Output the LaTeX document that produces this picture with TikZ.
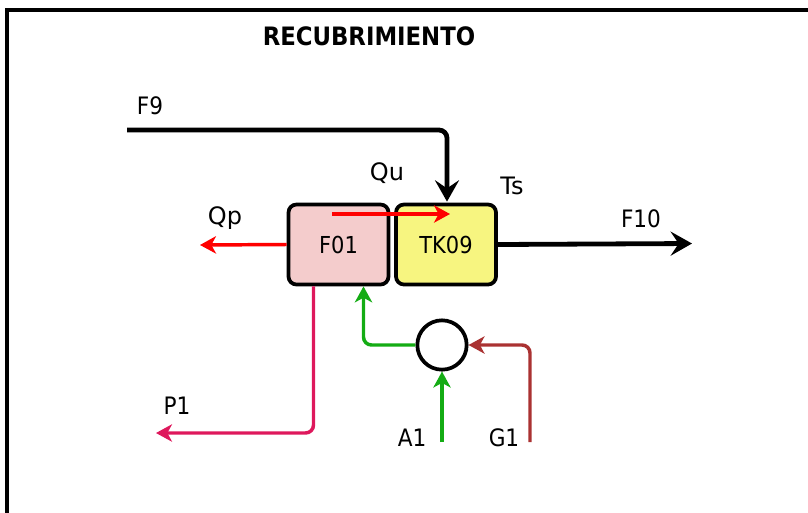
\documentclass[tikz,border=0pt]{standalone}
\usepackage{fontspec}
\setmainfont{DejaVu Sans}
\newfontfamily\condfont{DejaVu Sans Condensed}
\usetikzlibrary{arrows.meta, calc}
\definecolor{pinkfill}{RGB}{244,204,204}
\definecolor{yellowfill}{RGB}{247,245,128}
\definecolor{heatred}{RGB}{255,0,0}
\definecolor{airgreen}{RGB}{20,172,20}
\definecolor{gasbrown}{RGB}{170,50,50}
\definecolor{prodpink}{RGB}{222,24,92}

\begin{document}
\begin{tikzpicture}[x=0.75pt,y=-0.75pt,
    unit/.style={draw,line width=2.8pt,rounded corners=6pt,minimum width=75pt,minimum height=60pt,font=\condfont\fontsize{17.5}{20}\selectfont},
    flow/.style={line width=3.6pt,rounded corners=6pt,-{Stealth[length=16pt,width=18pt,inset=6pt]}},
    line/.style={line width=2.6pt,rounded corners=6pt,-{Stealth[length=12pt,width=13pt,inset=3.5pt]}},
    lbl/.style={font=\condfont\fontsize{18}{21}\selectfont,inner sep=0pt},
    heat/.style={font=\fontsize{18}{21}\selectfont,inner sep=0pt}]
  \useasboundingbox (0,0) rectangle (808,512);
  \draw[line width=2.3pt] (7,515) -- (7,10) -- (812,10);
  \node[font=\condfont\bfseries\fontsize{19}{22}\selectfont,inner sep=0pt] (title) at (369,36) {RECUBRIMIENTO};
  \node[unit,fill=pinkfill] (f01) at (338.5,244.5) {F01};
  \node[unit,fill=yellowfill] (tk09) at (446,244.5) {TK09};
  \node[draw,circle,line width=2.8pt,minimum size=37pt,inner sep=0pt] (mix) at (442,345) {};
  \coordinate (f9) at (127,130);
  \coordinate (qu1) at (332,214);
  \coordinate (qu2) at (450,214);
  \coordinate (qp) at (200,245);
  \coordinate (f10) at (692,243.5);
  \coordinate (a1) at (442,442);
  \coordinate (g1) at (530,442);
  \coordinate (p1) at (156,433);
  \draw[flow] (f9) -| ($(tk09.north)+(1,-1)$);
  \draw[flow] (tk09.east) -- (f10);
  \draw[line,heatred] (qu1) -- (qu2);
  \draw[line,heatred] (f01.west) -- (qp);
  \draw[line,airgreen] (mix.west) -| ($(f01.south)+(25,0)$);
  \draw[line,airgreen] (a1) -- (mix.south);
  \draw[line,gasbrown] (g1) |- (mix.east);
  \draw[line,prodpink] ($(f01.south)+(-25,0)$) |- (p1);
  \node[lbl] (f9l) at (150,106) {F9};
  \node[heat] (qul) at (387,173) {Qu};
  \node[heat] (tsl) at (512,186) {Ts};
  \node[heat] (qpl) at (225,218) {Qp};
  \node[lbl] (f10l) at (641,219) {F10};
  \node[lbl] (p1l) at (177,406) {P1};
  \node[lbl] (a1l) at (412,438) {A1};
  \node[lbl] (g1l) at (504,438) {G1};
\end{tikzpicture}
\end{document}
